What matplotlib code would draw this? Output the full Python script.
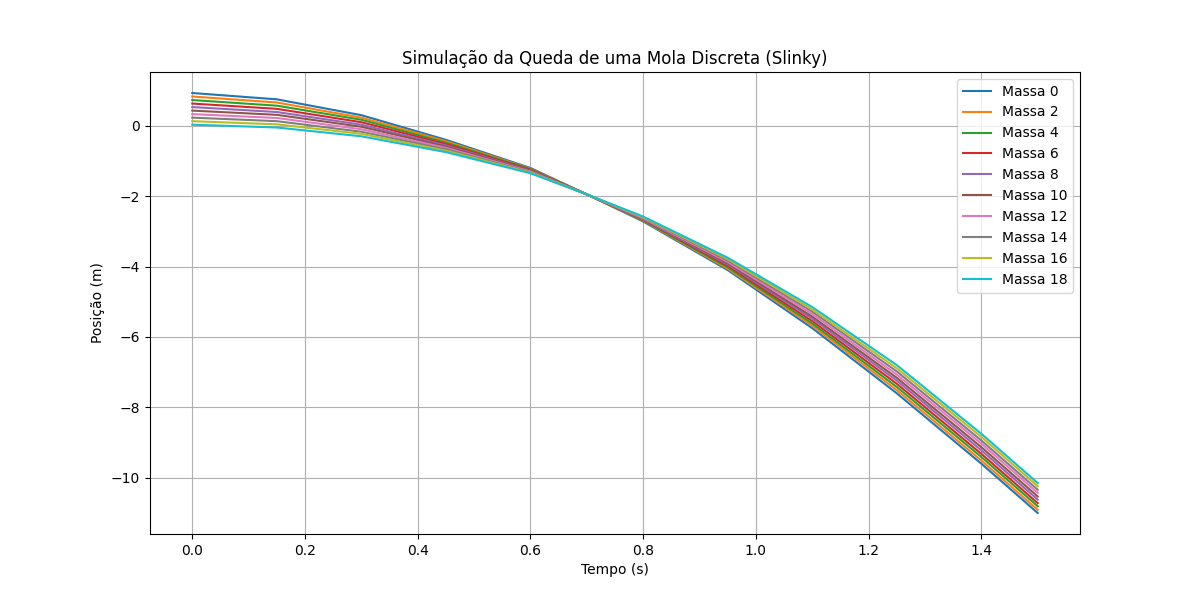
import matplotlib
matplotlib.use("Agg")
import matplotlib.pyplot as plt

tempo = [0.0, 0.15, 0.3, 0.45, 0.6, 0.7, 0.8, 0.95, 1.1, 1.25, 1.4, 1.5]

massa_0 = [0.93, 0.75, 0.30, -0.40, -1.20, -1.95, -2.72, -4.10, -5.75, -7.60, -9.60, -11.00]
massa_2 = [0.83, 0.66, 0.23, -0.44, -1.22, -1.95, -2.70, -4.06, -5.68, -7.51, -9.51, -10.91]
massa_4 = [0.73, 0.57, 0.17, -0.48, -1.23, -1.95, -2.69, -4.02, -5.62, -7.42, -9.41, -10.81]
massa_6 = [0.63, 0.48, 0.10, -0.52, -1.25, -1.95, -2.67, -3.98, -5.55, -7.33, -9.32, -10.72]
massa_8 = [0.53, 0.39, 0.03, -0.56, -1.27, -1.95, -2.66, -3.94, -5.48, -7.24, -9.22, -10.62]
massa_10 = [0.43, 0.31, -0.03, -0.59, -1.28, -1.95, -2.64, -3.91, -5.42, -7.16, -9.13, -10.53]
massa_12 = [0.33, 0.22, -0.10, -0.63, -1.30, -1.95, -2.63, -3.87, -5.35, -7.07, -9.03, -10.43]
massa_14 = [0.23, 0.13, -0.17, -0.67, -1.32, -1.95, -2.61, -3.83, -5.28, -6.98, -8.94, -10.34]
massa_16 = [0.13, 0.04, -0.23, -0.71, -1.33, -1.95, -2.60, -3.79, -5.22, -6.89, -8.84, -10.24]
massa_18 = [0.03, -0.05, -0.30, -0.75, -1.35, -1.95, -2.58, -3.75, -5.15, -6.80, -8.75, -10.15]

rotulos = ["Massa 0", "Massa 2", "Massa 4", "Massa 6", "Massa 8",
           "Massa 10", "Massa 12", "Massa 14", "Massa 16", "Massa 18"]
series = [massa_0, massa_2, massa_4, massa_6, massa_8,
          massa_10, massa_12, massa_14, massa_16, massa_18]

fig, ax = plt.subplots(figsize=(12, 6), dpi=100)
for rotulo, y in zip(rotulos, series):
    ax.plot(tempo, y, label=rotulo)

ax.set_title("Simulação da Queda de uma Mola Discreta (Slinky)")
ax.set_xlabel("Tempo (s)")
ax.set_ylabel("Posição (m)")
ax.grid(True)
ax.legend(loc="upper right")

plt.savefig("out.png", dpi=100)
